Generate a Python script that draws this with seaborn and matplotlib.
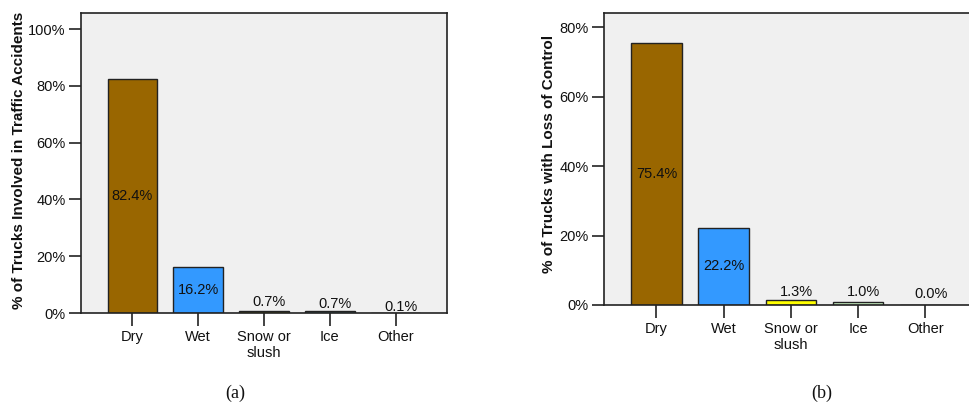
import pandas as pd
import seaborn as sns
import matplotlib
matplotlib.use("Agg")
import matplotlib.pyplot as plt
from matplotlib.ticker import PercentFormatter

# data
conditions = ["Dry", "Wet", "Snow or\nslush", "Ice", "Other"]
pct_accidents = [82.4, 16.2, 0.7, 0.7, 0.1]
pct_loss_control = [75.4, 22.2, 1.3, 1.0, 0.0]
colors_a = ["#996600", "#3399ff", "#808000", "#4f8a8a", "#404040"]
colors_b = ["#996600", "#3399ff", "#ffff00", "#c8f0c0", "#404040"]

sns.set_style("white")
plt.rcParams["font.family"] = ["Liberation Sans", "DejaVu Sans"]
plt.rcParams["text.color"] = "#111111"
plt.rcParams["xtick.color"] = "#111111"
plt.rcParams["ytick.color"] = "#111111"
plt.rcParams["axes.labelcolor"] = "#111111"

fig = plt.figure(figsize=(9.69, 4.03), dpi=100)
ax_a = fig.add_axes([0.0836, 0.2233, 0.3777, 0.7444])
ax_b = fig.add_axes([0.6233, 0.2432, 0.3857, 0.7246])


def draw(ax, vals, cols, ylabel, ytop, yticks, small_off, lab_xy):
    df = pd.DataFrame({"cond": conditions, "pct": vals})
    sns.barplot(data=df, x="cond", y="pct", hue="cond", palette=cols,
                legend=False, width=0.75, edgecolor="#222222",
                linewidth=1.0, saturation=1, ax=ax)
    ax.set_facecolor("#f0f0f0")
    ax.set_xlim(-0.78, 4.78)
    ax.set_ylim(0, ytop)
    ax.set_yticks(yticks)
    ax.yaxis.set_major_formatter(PercentFormatter(decimals=0))
    ax.tick_params(axis="both", bottom=True, left=True, direction="out",
                   length=9, width=1.2, color="#222222", labelsize=10.5, pad=2)
    ax.tick_params(axis="x", pad=3)
    ax.set_xlabel("")
    ax.set_ylabel(ylabel, fontsize=11, fontweight="bold")
    ax.yaxis.set_label_coords(*lab_xy)
    for s in ax.spines.values():
        s.set_color("#222222")
        s.set_linewidth(1.2)
    for i, v in enumerate(vals):
        if v > 10:
            ax.text(i, v / 2, f"{v:.1f}%", ha="center", va="center", fontsize=10.5)
        else:
            ax.text(i + 0.08, v + small_off[i], f"{v:.1f}%", ha="center",
                    va="center", fontsize=10.5)


draw(ax_a, pct_accidents, colors_a, "% of Trucks Involved in Traffic Accidents",
     105.7, [0, 20, 40, 60, 80, 100], [0, 0, 3.3, 2.5, 2.1], (-0.150, 0.51))
draw(ax_b, pct_loss_control, colors_b, "% of Trucks with Loss of Control",
     84.1, [0, 20, 40, 60, 80], [0, 0, 2.5, 2.8, 3.1], (-0.128, 0.517))

fig.text(235 / 969, 1 - 393 / 403, "(a)", family="Liberation Serif",
         fontsize=13, ha="center", va="center")
fig.text(822 / 969, 1 - 393 / 403, "(b)", family="Liberation Serif",
         fontsize=13, ha="center", va="center")

fig.savefig("out.png", dpi=100, facecolor="white")
